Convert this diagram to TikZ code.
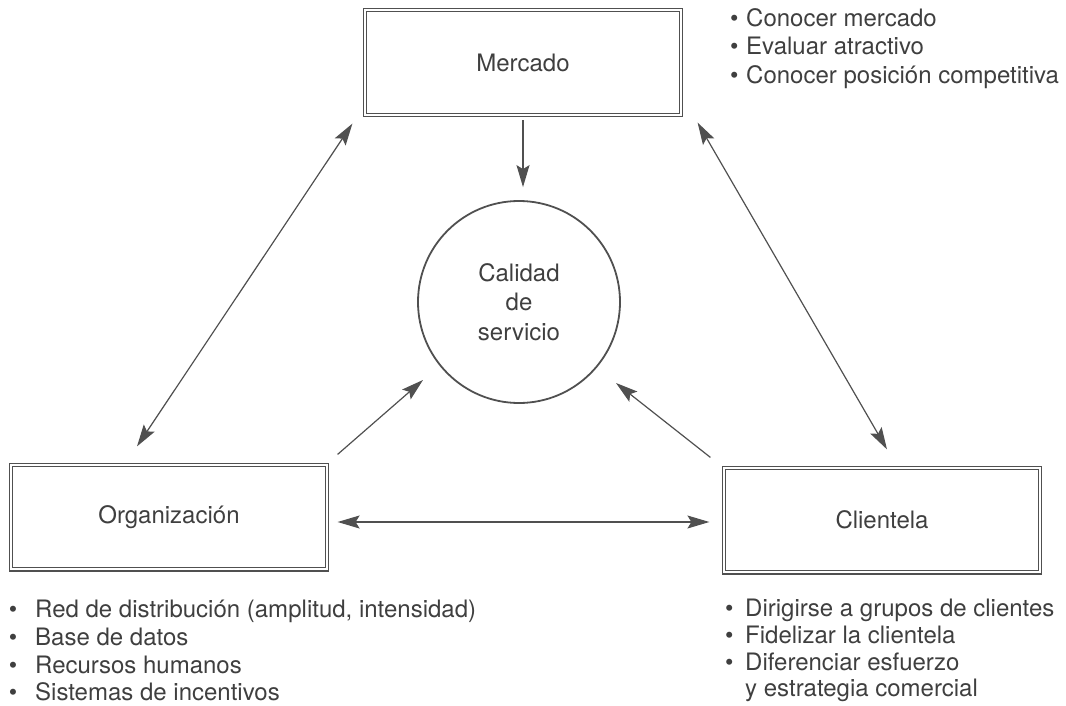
\documentclass[tikz,border=0pt]{standalone}
\usepackage{fontspec}
\setmainfont{TeX Gyre Heros}
\usetikzlibrary{arrows.meta}
\definecolor{ink}{HTML}{3F3F3F}
\definecolor{lin}{HTML}{505050}
\newcommand\bl[1]{\makebox[10pt][c]{\fontsize{24}{24}\selectfont\raisebox{0pt}{•}}\hspace{#1}}
\begin{document}
\begin{tikzpicture}[x=1pt,y=-1pt,
  box/.style={draw=lin, double=white, double distance=2pt, line width=1.2pt,
    minimum width=315.6pt, minimum height=104.6pt, inner sep=0pt, text=ink,
    font=\fontsize{24}{28}\selectfont},
  circ/.style={circle, draw=lin, line width=1.8pt, minimum size=202pt, inner sep=0pt,
    align=center, text=ink, font=\fontsize{24}{29.5}\selectfont},
  txt/.style={anchor=base west, inner sep=0pt, text=ink, font=\fontsize{24}{28}\selectfont},
  arr/.style={draw=lin, line width=1.2pt, -{Stealth[length=22pt,width=13pt,inset=4pt]}},
  arrb/.style={draw=lin, line width=1.2pt,
    {Stealth[length=22pt,width=13pt,inset=4pt]}-{Stealth[length=22pt,width=13pt,inset=4pt]}}
]
\useasboundingbox (0,0) rectangle (1066,706);

\node[box] (M) at (523,62.5) {Mercado};
\node[box] (O) at (169,517) {Organización};
\node[box] (K) at (882,520) {Clientela};
\node[circ] (C) at (519,302) {Calidad\\de\\servicio};

\draw[arr] ([shift={(0,5)}]M.south) -- ([shift={(4,-13)}]C.north);
\draw[arrb] ([shift={(-12.2,8.2)}]M.south west) -- ([shift={(-32,-17.7)}]O.north);
\draw[arrb] ([shift={(16.2,7.2)}]M.south east) -- ([shift={(5,-17.7)}]K.north);
\draw[arrb] ([shift={(10.2,5)}]O.east) -- ([shift={(-14.2,2)}]K.west);
\draw[arr] ([shift={(10.2,-9.7)}]O.north east) -- ([shift={(-96,78)}]C.center);
\draw[arr] ([shift={(-13.2,-9.7)}]K.north west) -- ([shift={(97,81)}]C.center);

\node[txt] (m1) at (729,26.5) {\bl{7pt}Conocer mercado};
\node[txt] (m2) at (729,55) {\bl{7pt}Evaluar atractivo};
\node[txt] (m3) at (729,83.5) {\bl{7pt}Conocer posición competitiva};

\node[txt] (o1) at (8,617) {\bl{17pt}Red de distribución (amplitud, intensidad)};
\node[txt] (o2) at (8,645) {\bl{17pt}Base de datos};
\node[txt] (o3) at (8,673) {\bl{17pt}Recursos humanos};
\node[txt] (o4) at (8,700) {\bl{17pt}Sistemas de incentivos};

\node[txt] (k1) at (724,616) {\bl{11pt}Dirigirse a grupos de clientes};
\node[txt] (k2) at (724,643) {\bl{11pt}Fidelizar la clientela};
\node[txt] (k3) at (724,670) {\bl{11pt}Diferenciar esfuerzo};
\node[txt] (k4) at (745,696) {y estrategia comercial};
\end{tikzpicture}
\end{document}
